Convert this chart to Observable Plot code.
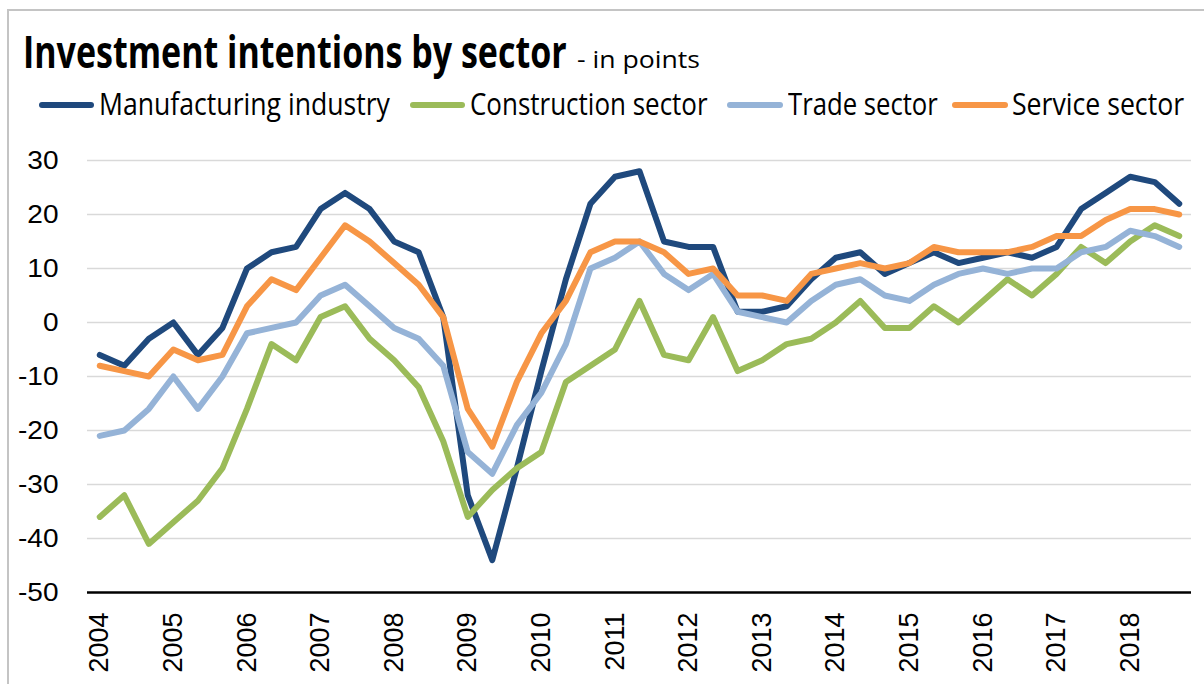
<!DOCTYPE html>
<html>
<head>
<meta charset="utf-8">
<script src="https://cdn.jsdelivr.net/npm/d3@7"></script>
<script src="https://cdn.jsdelivr.net/npm/@observablehq/plot@0.6"></script>
<style>
  html, body { margin: 0; padding: 0; background: #fff; }
  #page { position: relative; width: 1204px; height: 684px; overflow: hidden; background: #fff; }
  #frame { position: absolute; left: 7px; top: 9px; width: 1400px; height: 900px;
           border-left: 2px solid #c4c4c4; border-top: 2px solid #c4c4c4; }
  .fit { position: absolute; white-space: nowrap; transform-origin: 0 0; line-height: 1;
         font-family: "Open Sans", "Noto Sans", sans-serif; color: #000; }
  #title { font-weight: 700; font-size: 44px; }
  #subtitle { font-weight: 400; font-size: 24px; }
  .lg { font-size: 31px; font-weight: 400; }
  .sw { position: absolute; height: 6px; border-radius: 3px; }
  #chart { position: absolute; left: 0; top: 130px; }
</style>
</head>
<body>
<div id="page">
  <div id="frame"></div>
  <div id="header"></div>
  <div id="chart"></div>
</div>
<script>
// ---- data (3 surveys per year) ----
const startYear = 2004;
const perYear = 3;
const years = [2004, 2005, 2006, 2007, 2008, 2009, 2010, 2011, 2012, 2013, 2014, 2015, 2016, 2017, 2018];
const yTicks = [-50, -40, -30, -20, -10, 0, 10, 20, 30];

const seriesNames = ["Manufacturing industry", "Construction sector", "Trade sector", "Service sector"];
const seriesColors = ["#1F497D", "#9BBB59", "#95B3D7", "#F79646"];

const manufacturing = [-6, -8, -3, 0, -6, -1, 10, 13, 14, 21, 24, 21, 15, 13, 1,
  -32, -44, -27, -9, 8, 22, 27, 28, 15, 14, 14, 2, 2, 3, 8,
  12, 13, 9, 11, 13, 11, 12, 13, 12, 14, 21, 24, 27, 26, 22];
const construction = [-36, -32, -41, -37, -33, -27, -16, -4, -7, 1, 3, -3, -7, -12, -22,
  -36, -31, -27, -24, -11, -8, -5, 4, -6, -7, 1, -9, -7, -4, -3,
  0, 4, -1, -1, 3, 0, 4, 8, 5, 9, 14, 11, 15, 18, 16];
const trade = [-21, -20, -16, -10, -16, -10, -2, -1, 0, 5, 7, 3, -1, -3, -8,
  -24, -28, -19, -13, -4, 10, 12, 15, 9, 6, 9, 2, 1, 0, 4,
  7, 8, 5, 4, 7, 9, 10, 9, 10, 10, 13, 14, 17, 16, 14];
const service = [-8, -9, -10, -5, -7, -6, 3, 8, 6, 12, 18, 15, 11, 7, 1,
  -16, -23, -11, -2, 4, 13, 15, 15, 13, 9, 10, 5, 5, 4, 9,
  10, 11, 10, 11, 14, 13, 13, 13, 14, 16, 16, 19, 21, 21, 20];

const title = "Investment intentions by sector";
const subtitle = "- in points";

// ---- header: title, subtitle, legend ----
const header = document.getElementById("header");
function addText(txt, cls, id, left, top, width) {
  const el = document.createElement("div");
  el.className = "fit " + cls;
  if (id) el.id = id;
  el.textContent = txt;
  el.style.left = left + "px";
  el.style.top = top + "px";
  el.dataset.w = width;
  header.appendChild(el);
  return el;
}
addText(title, "", "title", 23, 29, 544);
addText(subtitle, "", "subtitle", 577, 47, 123);

const legendLayout = [
  {line: [39, 94], text: [99, 291]},
  {line: [410, 465], text: [470, 238]},
  {line: [727, 783], text: [788, 150]},
  {line: [952, 1008], text: [1012, 172]}
];
seriesNames.forEach((name, i) => {
  const L = legendLayout[i];
  const sw = document.createElement("div");
  sw.className = "sw";
  sw.style.left = L.line[0] + "px";
  sw.style.width = (L.line[1] - L.line[0]) + "px";
  sw.style.top = "102px";
  sw.style.background = seriesColors[i];
  header.appendChild(sw);
  addText(name, "lg", null, L.text[0], 88, L.text[1]);
});
document.querySelectorAll(".fit").forEach(el => {
  const natural = el.offsetWidth;
  const target = +el.dataset.w;
  if (natural > 0) el.style.transform = `scaleX(${target / natural})`;
});

// ---- chart ----
const raw = [manufacturing, construction, trade, service];
const rows = seriesNames.flatMap((name, s) =>
  raw[s].map((v, i) => ({t: startYear + i / perYear, v, name})));
const n = manufacturing.length;
const step = 1 / perYear;
const xDomain = [startYear - step / 2, startYear + (n - 1) * step + step / 2];
const fmt = d => (d < 0 ? "-" + Math.abs(d) : String(d));

const chart = Plot.plot({
  width: 1204,
  height: 554,
  marginLeft: 87,
  marginRight: 13,
  marginTop: 30,
  marginBottom: 92,
  style: {fontFamily: '"Liberation Sans", Arial, sans-serif', fontSize: "27px", background: "transparent", color: "#000"},
  x: {domain: xDomain, label: null},
  y: {domain: [yTicks[0], yTicks[yTicks.length - 1]], label: null},
  color: {domain: seriesNames, range: seriesColors},
  marks: [
    Plot.gridY(yTicks.slice(1), {stroke: "#d9d9d9", strokeOpacity: 1, strokeWidth: 1.5}),
    Plot.ruleY([yTicks[0]], {stroke: "#000", strokeWidth: 2.5}),
    Plot.axisY(yTicks, {tickSize: 0, tickPadding: 29, tickFormat: fmt, fill: "#000", fontSize: 25}),
    Plot.axisX(years, {tickSize: 0, tickPadding: 20, tickRotate: -90, textAnchor: "end", lineAnchor: "middle",
      tickFormat: d => String(d), fill: "#000", fontSize: 27}),
    Plot.line(rows, {x: "t", y: "v", stroke: "name", strokeWidth: 6, strokeLinejoin: "round", strokeLinecap: "round"})
  ]
});
document.getElementById("chart").appendChild(chart);
// widen the y tick labels a little, as in the reference
chart.querySelectorAll('g[aria-label="y-axis tick label"] text').forEach(t => {
  const w = t.getComputedTextLength();
  if (w > 0) {
    t.setAttribute("textLength", (w * 1.12).toFixed(1));
    t.setAttribute("lengthAdjust", "spacingAndGlyphs");
  }
});
</script>
</body>
</html>
